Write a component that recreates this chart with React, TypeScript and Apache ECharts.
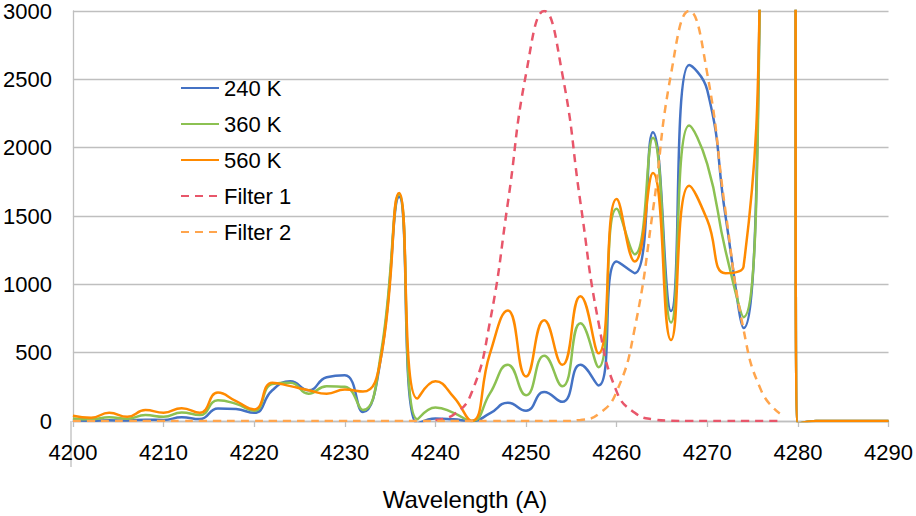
import React, { useEffect, useRef } from "react";
import * as echarts from "echarts";

const FONT = "'Liberation Sans', Arial, sans-serif";

const wavelengths = [
  4200, 4202, 4204, 4206, 4208, 4210, 4212, 4214, 4216, 4218,
  4220, 4222, 4224, 4226, 4228, 4230, 4232, 4234, 4236, 4238,
  4240, 4242, 4244, 4246, 4248, 4250, 4252, 4254, 4256, 4258,
  4260, 4262, 4264, 4266, 4268, 4270, 4272, 4274, 4276, 4278,
  4279.5, 4280, 4282, 4284, 4286, 4288, 4290,
];

const k240 = [
  3, 2, 5, 4, 10, 8, 27, 14, 92, 87,
  60, 225, 290, 225, 320, 335, 65, 470, 1640, -20,
  19, 12, 0, 55, 133, 75, 212, 140, 411, 260,
  1167, 1082, 2113, 804, 2604, 2420, 1505, 680, 4000, 15000,
  8000, -20, 0, 0, 0, 0, 0,
];

const k360 = [
  19, 12, 27, 17, 43, 31, 63, 43, 152, 125,
  75, 270, 280, 200, 255, 250, 80, 500, 1660, 12,
  99, 60, 0, 200, 411, 188, 478, 254, 715, 394,
  1553, 1220, 2072, 720, 2162, 1880, 1250, 760, 4000, 15000,
  8000, -20, 0, 0, 0, 0, 0,
];

const k560 = [
  38, 24, 60, 31, 80, 60, 94, 60, 208, 145,
  85, 280, 255, 225, 200, 230, 215, 466, 1669, 164,
  290, 176, 0, 490, 809, 326, 737, 411, 913, 495,
  1625, 1167, 1814, 592, 1722, 1470, 1082, 1130, 4000, 15000,
  8000, -20, 0, 0, 0, 0, 0,
];

const filter1 = [
  null, null, null, null, null, null, null, null, null, null,
  null, null, null, null, null, null, null, null, null, null,
  8, 46, 208, 720, 1600, 2540, 3000, 2540, 1600, 720,
  215, 60, 12, 2, 0, 0, 0, 0, 0, 0,
  null, null, null, null, null, null, null,
];

const filter2 = [
  0, 0, 0, 0, 0, 0, 0, 0, 0, 0,
  0, 0, 0, 0, 0, 0, 0, 0, 0, 0,
  0, 0, 0, 0, 0, 0, 0, 0, 8, 50,
  215, 680, 1540, 2540, 3000, 2540, 1540, 670, 215, 55,
  null, null, null, null, null, null, null,
];

const seriesNames = ["240 K", "360 K", "560 K", "Filter 1", "Filter 2"];
const seriesColors = ["#4472C4", "#8CC152", "#FF8A00", "#E8566A", "#FFA54D"];
const seriesValues = [k240, k360, k560, filter1, filter2];
const dashed = [false, false, false, true, true];
const xTitle = "Wavelength (A)";

function pairs(vals: (number | null)[]) {
  const out: [number, number][] = [];
  vals.forEach((v, i) => {
    if (v !== null && v !== undefined) out.push([wavelengths[i], v]);
  });
  return out;
}

export default function App() {
  const ref = useRef<HTMLDivElement>(null);

  useEffect(() => {
    if (!ref.current) return;
    const chart = echarts.init(ref.current, null, { renderer: "svg" });
    const option = {
      animation: false,
      backgroundColor: "#ffffff",
      textStyle: { fontFamily: FONT },
      grid: { left: 71, right: 25, top: 7, bottom: 95, containLabel: false },
      legend: {
        orient: "vertical",
        left: 180,
        top: 77,
        padding: 0,
        itemWidth: 38,
        itemHeight: 14,
        itemGap: 14,
        itemStyle: { opacity: 0 },
        textStyle: { fontSize: 22, color: "#000", fontFamily: FONT, lineHeight: 22 },
        data: seriesNames,
      },
      xAxis: {
        type: "value",
        min: 4200,
        max: 4290,
        interval: 10,
        axisLine: { show: true, onZero: false, lineStyle: { color: "#BFBFBF", width: 1.3 } },
        axisTick: { show: true, length: 6, lineStyle: { color: "#BFBFBF", width: 1.3 } },
        axisLabel: {
          fontSize: 22,
          color: "#000",
          margin: 20,
          fontFamily: FONT,
          formatter: (v: number) => String(v),
        },
        splitLine: { show: false },
      },
      yAxis: {
        type: "value",
        min: 0,
        max: 3000,
        interval: 500,
        axisLine: { show: true, lineStyle: { color: "#BFBFBF", width: 1.3 } },
        axisTick: { show: false },
        axisLabel: {
          fontSize: 22,
          color: "#000",
          margin: 21,
          fontFamily: FONT,
          formatter: (v: number) => String(v),
        },
        splitLine: { show: true, lineStyle: { color: "#BFBFBF", width: 1.3 } },
      },
      graphic: [
        {
          type: "line",
          shape: { x1: 71, y1: 421, x2: 71, y2: 467 },
          style: { stroke: "#BFBFBF", lineWidth: 1.3 },
          silent: true,
        },
        {
          type: "text",
          x: 465,
          y: 499,
          style: {
            text: xTitle,
            font: `24px ${FONT}`,
            fill: "#000",
            textAlign: "center",
            textVerticalAlign: "middle",
          },
          silent: true,
        },
      ],
      series: seriesNames.map((name, i) => ({
        name,
        type: "line",
        data: pairs(seriesValues[i]),
        smooth: 0.5,
        symbol: "none",
        showSymbol: false,
        clip: true,
        color: seriesColors[i],
        lineStyle: {
          color: seriesColors[i],
          width: 2.5,
          type: dashed[i] ? [8, 6] : "solid",
        },
        z: 2 + i,
      })),
    };
    chart.setOption(option as any);
    return () => chart.dispose();
  }, []);

  return (
    <div
      ref={ref}
      style={{ position: "absolute", left: 0, top: 0, width: 916, height: 516, background: "#fff" }}
    />
  );
}
